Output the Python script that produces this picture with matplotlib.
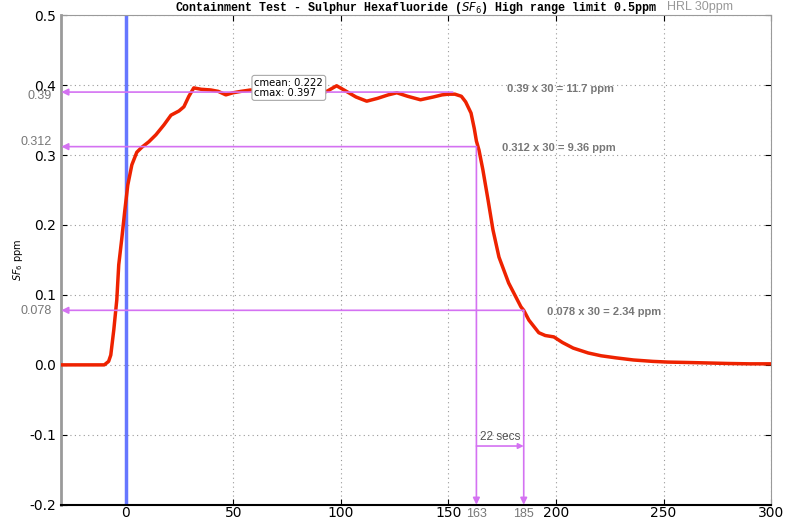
import matplotlib
matplotlib.use("Agg")
import matplotlib.pyplot as plt
import matplotlib.transforms as mtransforms

# ---- data ----
time_s = [-30, -10, -8, -7, -5.6, -4.2, -3.3, -1.9, -0.5, 0.9, 2.8, 5.1, 7.4, 10.7,
          14, 17.7, 21, 24.7, 27, 29.3, 31.6, 35, 39.5, 43, 46.5, 49.8, 53.5, 58,
          62, 66, 70, 75, 80, 85, 89, 94, 98, 102, 107, 112, 117, 122, 126, 131,
          137, 143, 147, 150, 153, 156, 158, 160.5, 162, 163, 164.2, 166, 168.4,
          170.7, 173.5, 178, 183.7, 185, 187.4, 192, 195, 199, 203, 208, 215, 221,
          228, 236, 245, 252, 260, 267, 280, 290, 300]
sf6_ppm = [0.0, 0.0, 0.005, 0.014, 0.05, 0.093, 0.143, 0.18, 0.22, 0.257, 0.286,
           0.304, 0.311, 0.319, 0.329, 0.343, 0.357, 0.363, 0.369, 0.384, 0.396,
           0.394, 0.393, 0.391, 0.386, 0.389, 0.391, 0.393, 0.392, 0.390, 0.391,
           0.389, 0.388, 0.387, 0.385, 0.392, 0.399, 0.392, 0.383, 0.377, 0.381,
           0.386, 0.389, 0.384, 0.379, 0.383, 0.386, 0.387, 0.387, 0.384, 0.376,
           0.360, 0.338, 0.320, 0.307, 0.279, 0.236, 0.193, 0.154, 0.117, 0.083,
           0.078, 0.064, 0.046, 0.042, 0.040, 0.032, 0.024, 0.017, 0.013, 0.010,
           0.007, 0.005, 0.004, 0.0035, 0.003, 0.002, 0.0015, 0.0015]

levels = [0.39, 0.312, 0.078]
level_ends = [152, 163, 185]
level_labels = ["0.39 x 30 = 11.7 ppm", "0.312 x 30 = 9.36 ppm", "0.078 x 30 = 2.34 ppm"]
label_pos = [(177, 0.395), (175, 0.310), (196, 0.076)]
level_tick_offsets = [-0.006, 0.006, -0.001]
mark_times = [163, 185]
xticks = [0, 50, 100, 150, 200, 250, 300]
yticks = [-0.2, -0.1, 0.0, 0.1, 0.2, 0.3, 0.4, 0.5]
cmean, cmax = 0.222, 0.397

vio = '#d472f2'
grey_txt = '#777777'

fig = plt.figure(figsize=(7.86, 5.22), dpi=100)
ax = fig.add_axes([0.078, 0.033, 0.903, 0.938])
ax.set_xlim(-30, 300)
ax.set_ylim(-0.2, 0.5)

ax.grid(True, linestyle=(0, (1, 3)), color='#999999', linewidth=0.8)
ax.set_xticks(xticks)
ax.set_yticks(yticks)
ax.set_yticklabels(['%.1f' % v if v != 0 else '0.0' for v in yticks])
ax.tick_params(direction='in', top=True, right=True, labelsize=10, length=4)
ax.tick_params(axis='x', pad=1)
ax.tick_params(axis='y', pad=4)
for sp in ['left', 'right', 'top']:
    ax.spines[sp].set_color('#9a9a9a')
ax.spines['left'].set_linewidth(2)
ax.spines['bottom'].set_linewidth(1.5)

ax.axvline(0, color='#6677ff', lw=2.5, zorder=2)
ax.plot(time_s, sf6_ppm, color='#ee2200', lw=2.5, zorder=3)

# horizontal level arrows
for lv, xe in zip(levels, level_ends):
    ax.annotate('', xy=(-30, lv), xytext=(xe, lv),
                arrowprops=dict(arrowstyle='-|>', color=vio, lw=1.2,
                                mutation_scale=10, shrinkA=0, shrinkB=0),
                zorder=4, annotation_clip=False)
# vertical drop arrows
for t, lv in zip(mark_times, levels[1:]):
    ax.annotate('', xy=(t, -0.2), xytext=(t, lv),
                arrowprops=dict(arrowstyle='-|>', color=vio, lw=1.2,
                                mutation_scale=10, shrinkA=0, shrinkB=0),
                zorder=4, annotation_clip=False)
# 22 secs arrow
ax.annotate('', xy=(mark_times[1], -0.116), xytext=(mark_times[0], -0.116),
            arrowprops=dict(arrowstyle='-|>', color=vio, lw=1.2,
                            mutation_scale=8, shrinkA=0, shrinkB=0), zorder=4)
ax.text((mark_times[0] + mark_times[1]) / 2, -0.103,
        '%d secs' % (mark_times[1] - mark_times[0]),
        ha='center', va='center', fontsize=8.5, color='#555555',
        family='Liberation Sans')

for txt, (tx, ty) in zip(level_labels, label_pos):
    ax.text(tx, ty, txt, ha='left', va='center', fontsize=8, color=grey_txt,
            family='Liberation Sans', fontweight='bold')

# extra grey tick labels
ytrans = mtransforms.blended_transform_factory(ax.transAxes, ax.transData)
for lv, off in zip(levels, level_tick_offsets):
    ax.text(-0.013, lv + off, ('%g' % lv), transform=ytrans, ha='right', va='center',
            fontsize=9, color=grey_txt, family='Liberation Sans')
xtrans = mtransforms.blended_transform_factory(ax.transData, ax.transAxes)
for t in mark_times:
    ax.text(t, -0.006, str(t), transform=xtrans, ha='center', va='top',
            fontsize=9, color=grey_txt, family='Liberation Sans')

# stats box
ax.text(59.8, 0.396, 'cmean: %.3f\ncmax: %.3f' % (cmean, cmax), ha='left', va='center',
        fontsize=7.2, linespacing=1.0, zorder=5,
        bbox=dict(boxstyle='round,pad=0.25', fc='white', ec='#aaaaaa', lw=0.8))

ax.set_ylabel('$SF_6$ ppm', fontsize=7, labelpad=3)
ax.set_title('Containment Test - Sulphur Hexafluoride ($SF_6$) High range limit 0.5ppm',
             family='Liberation Mono', fontsize=8.4, fontweight='bold', pad=3)
fig.text(0.849, 0.987, 'HRL 30ppm', fontsize=9, color='#999999',
         family='Liberation Sans', va='center', ha='left')

fig.savefig('out.png', dpi=100)
